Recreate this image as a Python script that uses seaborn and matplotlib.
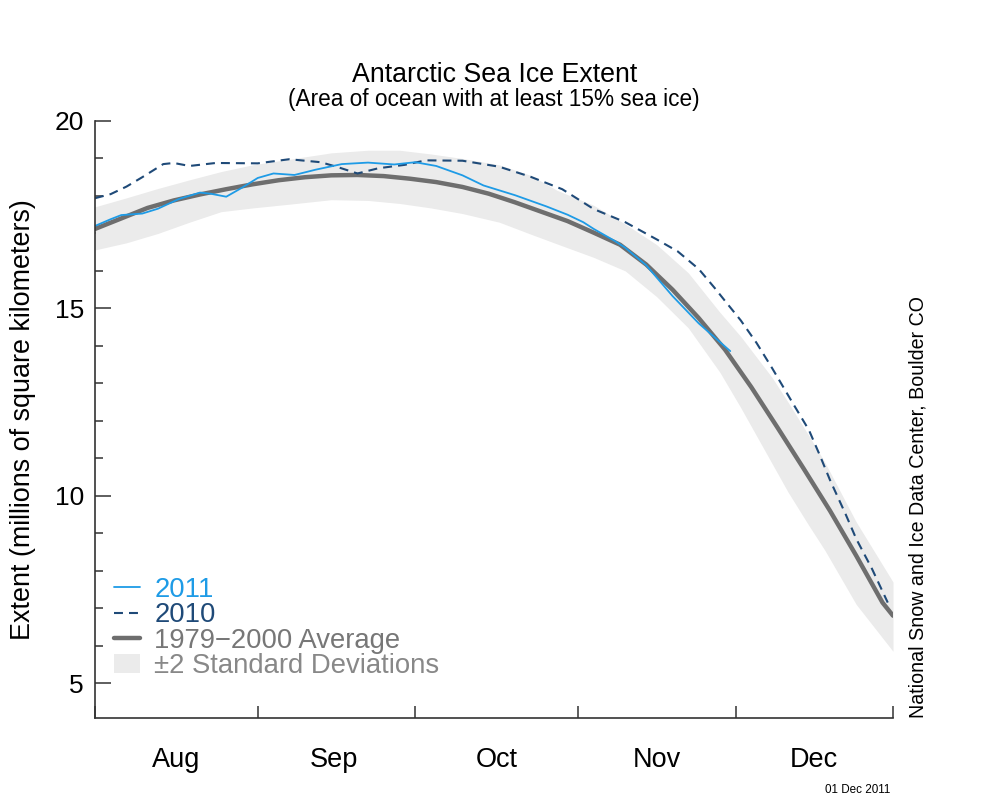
import numpy as np
import seaborn as sns
import matplotlib.pyplot as plt
from matplotlib.ticker import FixedLocator, NullFormatter

sns.set_style("white")
plt.rcParams['font.family'] = ['Liberation Sans', 'DejaVu Sans']
plt.rcParams['text.color'] = 'black'
plt.rcParams['axes.labelcolor'] = 'black'

# x = days since 1 Aug, y = extent in millions of km2
avg_days = [0, 5, 10, 15, 20, 25, 30, 35, 40, 45, 50, 55, 60, 65, 70, 75, 80, 85, 90,
            95, 100, 105, 110, 115, 120, 125, 130, 135, 140, 145, 150, 152]
avg_extent = [17.12, 17.40, 17.68, 17.88, 18.04, 18.18, 18.31, 18.42, 18.50, 18.55, 18.56,
              18.53, 18.46, 18.37, 18.24, 18.06, 17.83, 17.58, 17.33, 17.02, 16.70, 16.17,
              15.50, 14.74, 13.90, 12.90, 11.82, 10.72, 9.60, 8.40, 7.15, 6.80]

band_days = [0, 6, 12, 18, 24, 30, 37, 45, 52, 58, 64, 70, 77, 83, 88, 95, 101, 107, 113,
             119, 123, 126, 129, 132, 136, 139, 145, 152]
band_low = [16.56, 16.75, 17.00, 17.30, 17.58, 17.68, 17.78, 17.90, 17.88, 17.80, 17.68,
            17.53, 17.30, 16.98, 16.72, 16.36, 16.00, 15.31, 14.48, 13.30, 12.35, 11.60,
            10.85, 10.10, 9.20, 8.55, 7.10, 5.85]
band_high = [17.71, 17.95, 18.20, 18.43, 18.65, 18.83, 18.98, 19.15, 19.22, 19.22, 19.12,
             19.00, 18.83, 18.55, 18.15, 17.75, 17.25, 16.70, 15.95, 14.90, 14.25, 13.70,
             13.15, 12.50, 11.60, 10.90, 9.30, 7.70]

days_2010 = [0, 3, 6, 9, 13, 15, 18, 23, 31, 37, 43, 46, 50, 54, 59, 63, 70, 77, 83, 89,
             95, 101, 107, 111, 115, 118, 120, 123, 126, 129, 133, 136, 138, 140, 143, 145,
             148, 151]
ext_2010 = [17.94, 18.05, 18.25, 18.50, 18.85, 18.88, 18.80, 18.88, 18.87, 18.98, 18.90,
            18.78, 18.60, 18.74, 18.83, 18.95, 18.94, 18.78, 18.51, 18.18, 17.65, 17.30,
            16.84, 16.52, 16.05, 15.55, 15.20, 14.68, 14.08, 13.40, 12.45, 11.75, 11.10,
            10.42, 9.50, 8.85, 8.05, 7.15]

days_2011 = [0, 3, 5, 9, 12, 16, 20, 22, 25, 28, 31, 34, 38, 42, 47, 52, 57, 61, 65, 70,
             74, 80, 86, 90, 93, 95, 99, 101, 105, 110, 115, 121]
ext_2011 = [17.20, 17.38, 17.49, 17.53, 17.66, 17.92, 18.09, 18.06, 17.98, 18.22, 18.48,
            18.60, 18.56, 18.70, 18.85, 18.89, 18.84, 18.90, 18.80, 18.55, 18.28, 18.02,
            17.72, 17.50, 17.30, 17.12, 16.80, 16.62, 16.15, 15.33, 14.60, 13.86]

month_edges = [0, 31, 61, 92, 122, 152]
month_mids = [15.5, 45.5, 76.5, 107, 137]
month_names = ['Aug', 'Sep', 'Oct', 'Nov', 'Dec']

fig = plt.figure(figsize=(10, 8), dpi=100)
ax = fig.add_axes([0.095, 0.1025, 0.798, 0.74625])

ax.fill_between(band_days, band_low, band_high, color='#ebebeb', lw=0,
                label='\u00b12 Standard Deviations')
sns.lineplot(x=avg_days, y=avg_extent, color='#6e6e6e', lw=3.2, ax=ax,
             label='1979\u22122000 Average', estimator=None)
sns.lineplot(x=days_2010, y=ext_2010, color='#1f4a78', lw=1.5, ls=(0, (4.3, 2.9)), ax=ax,
             label='2010', estimator=None)
sns.lineplot(x=days_2011, y=ext_2011, color='#1e9be6', lw=1.3, ax=ax,
             label='2011', estimator=None)

ax.set_xlim(0, 152)
ax.set_ylim(4.07, 20)
for s in ['top', 'right']:
    ax.spines[s].set_visible(False)
for s in ['left', 'bottom']:
    ax.spines[s].set_color('#333333')
    ax.spines[s].set_linewidth(1.2)

ax.yaxis.set_major_locator(FixedLocator([5, 10, 15, 20]))
ax.yaxis.set_minor_locator(FixedLocator(range(6, 20)))
ax.tick_params(axis='y', which='major', direction='in', length=11.5, width=1.1,
               color='#333333', labelsize=19, labelcolor='black', pad=8, left=True)
ax.tick_params(axis='y', which='minor', direction='in', length=5.8, width=1.1,
               color='#333333', left=True)

ax.xaxis.set_major_locator(FixedLocator(month_edges))
ax.xaxis.set_major_formatter(NullFormatter())
ax.set_xticks(month_mids, month_names, minor=True)
ax.tick_params(axis='x', which='major', direction='in', length=8.6, width=1.1,
               color='#333333', bottom=True)
ax.tick_params(axis='x', which='minor', length=0, labelsize=19.5, labelcolor='black',
               pad=21, bottom=True)

ax.set_ylabel('Extent (millions of square kilometers)', fontsize=19.4, labelpad=13)
ax.set_xlabel('')

handles, labels = ax.get_legend_handles_labels()
order = ['2011', '2010', '1979\u22122000 Average', '\u00b12 Standard Deviations']
hl = dict(zip(labels, handles))
leg = ax.legend([hl[k] for k in order], order, loc='lower left', bbox_to_anchor=(0.0, 0.033),
                frameon=False, fontsize=19.8, handlelength=0.95, handletextpad=0.5,
                labelspacing=-0.02, borderaxespad=0.3)
for t, c in zip(leg.get_texts(), ['#1e9be6', '#1f4a78', '#777777', '#888888']):
    t.set_color(c)

fig.text(0.495, 0.906, 'Antarctic Sea Ice Extent', ha='center', va='center', fontsize=19.3)
fig.text(0.494, 0.876, '(Area of ocean with at least 15% sea ice)', ha='center',
         va='center', fontsize=16.3)
fig.text(0.918, 0.1025, 'National Snow and Ice Data Center, Boulder CO', rotation=90,
         ha='center', va='bottom', fontsize=14.1)
fig.text(0.89, 0.0125, '01 Dec 2011', ha='right', va='center', fontsize=8.4)

fig.savefig('out.png', dpi=100)
